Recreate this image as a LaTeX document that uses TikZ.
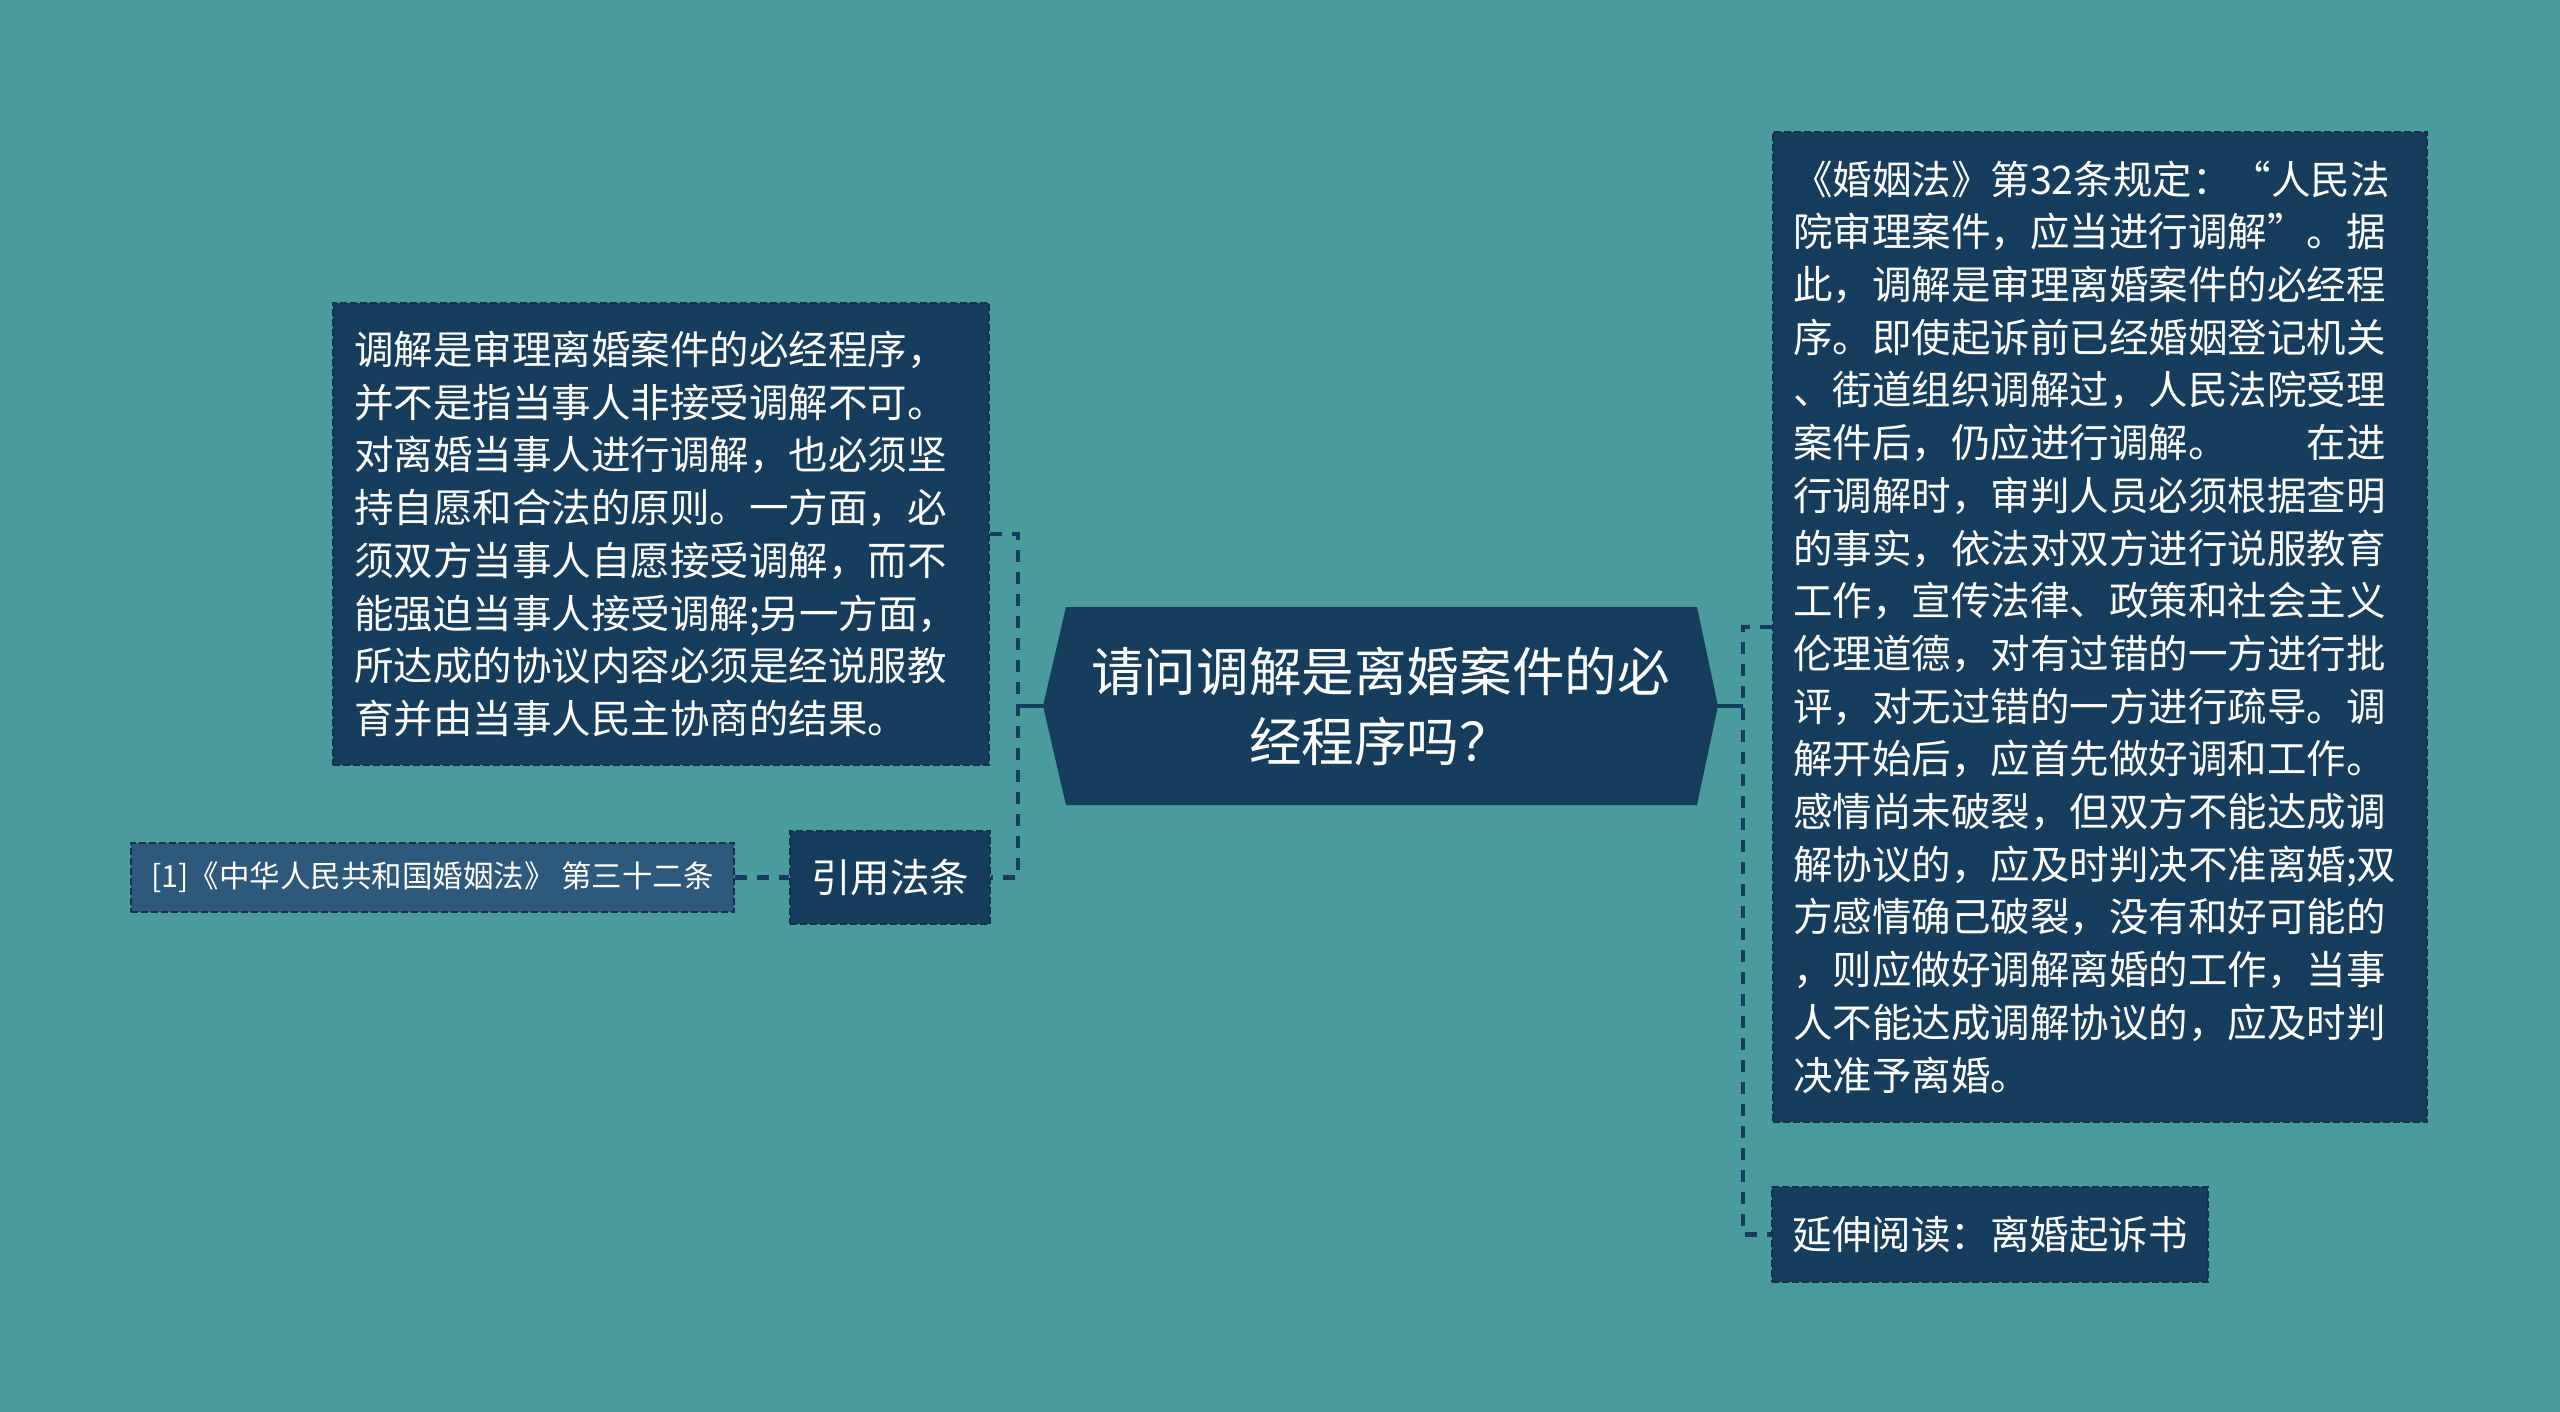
\documentclass[tikz,border=0pt]{standalone}
\usepackage{fontspec}
\setmainfont{Noto Sans CJK SC}
\usetikzlibrary{calc}
\definecolor{bg}{RGB}{74,156,156}
\definecolor{boxfill}{RGB}{23,61,93}
\definecolor{boxline}{RGB}{16,48,76}
\definecolor{citefill}{RGB}{46,89,122}
\definecolor{linkc}{RGB}{23,61,93}
\begin{document}
\begin{tikzpicture}[x=1pt,y=-1pt,
  box/.style={rectangle, fill=boxfill, draw=boxline, line width=2.5pt,
    dash pattern=on 7pt off 3pt, text=white, inner sep=0pt, align=left,
    font=\fontsize{39.5}{52.7}\selectfont},
  citebox/.style={box, fill=citefill, font=\fontsize{30.5}{36}\selectfont},
  linkdash/.style={draw=linkc, line width=4.5pt, dash pattern=on 12pt off 10pt},
  linksolid/.style={draw=linkc, line width=4.5pt}
]
\fill[bg] (0,0) rectangle (2560,1412);
\useasboundingbox (0,0) rectangle (2560,1412);

% central shape
\fill[boxfill] (1043,706) -- (1066,607) -- (1697,607) -- (1718,706) -- (1697,805) -- (1066,805) -- cycle;
\node[text=white, align=center, inner sep=0pt, minimum width=675, minimum height=198,
  font=\fontsize{52.6}{70}\selectfont] (c) at (1380.5,706) {请问调解是离婚案件的必\\经程序吗？};

% left top box
\node[box, minimum width=656, minimum height=462, text width=614] (lt) at (661,534) {%
调解是审理离婚案件的必经程序，\\
并不是指当事人非接受调解不可。\\
对离婚当事人进行调解，也必须坚\\
持自愿和合法的原则。一方面，必\\
须双方当事人自愿接受调解，而不\\
能强迫当事人接受调解;另一方面，\\
所达成的协议内容必须是经说服教\\
育并由当事人民主协商的结果。};

% 引用法条
\node[box, align=center, minimum width=200, minimum height=93] (yf) at (890,877.5) {引用法条};

% citation
\node[citebox, align=center, minimum width=603, minimum height=69] (cit) at (432.5,877.5) {[1]《中华人民共和国婚姻法》 第三十二条};

% right big box
\node[box, minimum width=654, minimum height=990, text width=614] (rt) at (2100,627) {%
《婚姻法》第32条规定：“人民法\\
院审理案件，应当进行调解”。据\\
此，调解是审理离婚案件的必经程\\
序。即使起诉前已经婚姻登记机关\\
、街道组织调解过，人民法院受理\\
案件后，仍应进行调解。\hspace*{2em}在进\\
行调解时，审判人员必须根据查明\\
的事实，依法对双方进行说服教育\\
工作，宣传法律、政策和社会主义\\
伦理道德，对有过错的一方进行批\\
评，对无过错的一方进行疏导。调\\
解开始后，应首先做好调和工作。\\
感情尚未破裂，但双方不能达成调\\
解协议的，应及时判决不准离婚;双\\
方感情确己破裂，没有和好可能的\\
，则应做好调解离婚的工作，当事\\
人不能达成调解协议的，应及时判\\
决准予离婚。};

% 延伸阅读
\node[box, align=center, minimum width=436, minimum height=95] (yd) at (1990,1234.5) {延伸阅读：离婚起诉书};

% junctions
\coordinate (jl) at (1018,706);
\coordinate (jr) at (1743,706);

% connectors
\draw[linksolid] (c.west) -- (jl);
\draw[linkdash] (lt.east) -| (jl) |- (yf.east);
\draw[linkdash] (cit.east) -- (yf.west);
\draw[linksolid] (c.east) -- (jr);
\draw[linkdash] (rt.west) -| (jr) |- (yd.west);
\end{tikzpicture}
\end{document}
